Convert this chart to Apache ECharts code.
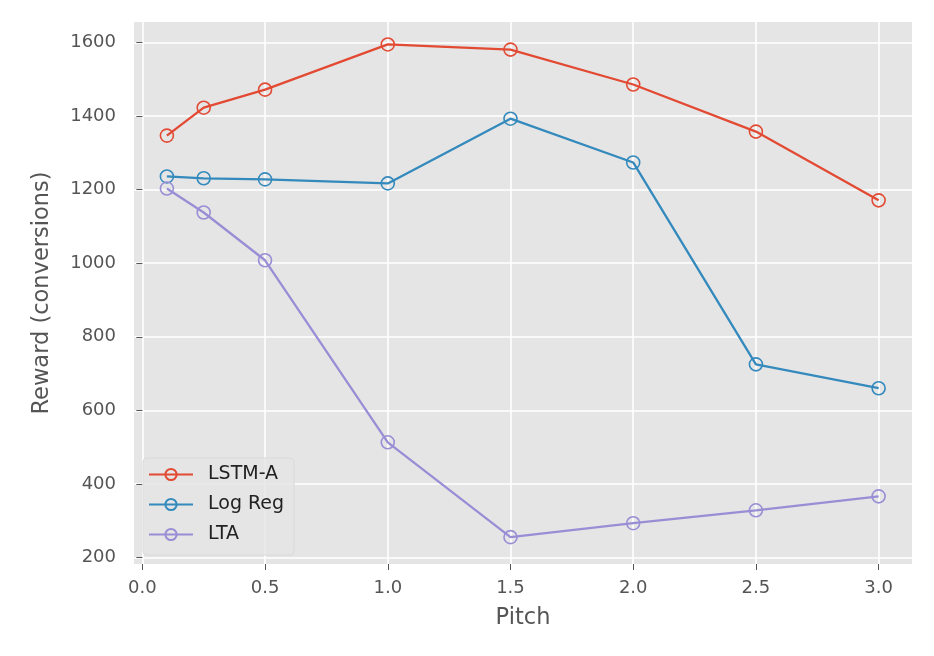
<!DOCTYPE html>
<html>
<head>
<meta charset="utf-8">
<script src="https://cdn.jsdelivr.net/npm/echarts@6/dist/echarts.min.js"></script>
<style>html,body{margin:0;padding:0;background:#fff}#c{width:934px;height:656px}</style>
</head>
<body>
<div id="c"></div>
<script>
const pitch = [0.1, 0.25, 0.5, 1.0, 1.5, 2.0, 2.5, 3.0];
const lstmA = [1347, 1423, 1472, 1595, 1581, 1486, 1358, 1171];
const logReg = [1236, 1231, 1228, 1217, 1393, 1274, 725, 660];
const lta = [1203, 1138, 1008, 513, 255, 293, 328, 366];
const xTicks = [0.0, 0.5, 1.0, 1.5, 2.0, 2.5, 3.0];
const yTicks = [200, 400, 600, 800, 1000, 1200, 1400, 1600];
const seriesNames = ['LSTM-A', 'Log Reg', 'LTA'];
const colors = ['#E24A33', '#348ABD', '#988ED5'];

const chart = echarts.init(document.getElementById('c'), null, {renderer: 'canvas'});
const font = 'DejaVu Sans';
function mkSeries(name, vals, color) {
  return {
    name: name,
    type: 'line',
    data: pitch.map((p, i) => [p, vals[i]]),
    symbol: 'circle',
    symbolSize: 13,
    showSymbol: true,
    lineStyle: {color: color, width: 2.3},
    itemStyle: {color: 'rgba(0,0,0,0)', borderColor: color, borderWidth: 1.6},
    emphasis: {disabled: true},
    animation: false,
    z: 3
  };
}
const option = {
  backgroundColor: '#fff',
  animation: false,
  grid: {left: 134, top: 22, right: 22, bottom: 92, show: true, backgroundColor: '#E5E5E5', borderWidth: 0},
  xAxis: {
    type: 'value',
    min: -0.034, max: 3.136,
    name: 'Pitch', nameLocation: 'middle', nameGap: 43,
    nameTextStyle: {fontFamily: font, fontSize: 22.5, color: '#555555'},
    axisLine: {show: false},
    axisTick: {show: true, length: 6, inside: false, lineStyle: {color: '#555555', width: 1}, customValues: xTicks},
    axisLabel: {fontFamily: font, fontSize: 18, color: '#555555', margin: 15, customValues: xTicks,
      formatter: v => Number(v).toFixed(1)},
    splitLine: {show: true, lineStyle: {color: '#ffffff', width: 1.6}}
  },
  yAxis: {
    type: 'value',
    min: 182, max: 1656,
    name: 'Reward (conversions)', nameLocation: 'middle', nameGap: 80,
    nameTextStyle: {fontFamily: font, fontSize: 22.5, color: '#555555'},
    axisLine: {show: false},
    axisTick: {show: true, length: 6, inside: false, lineStyle: {color: '#555555', width: 1}, customValues: yTicks},
    axisLabel: {fontFamily: font, fontSize: 18, color: '#555555', margin: 18, customValues: yTicks,
      formatter: v => String(v)},
    splitLine: {show: true, lineStyle: {color: '#ffffff', width: 1.6}}
  },
  legend: {
    show: true,
    orient: 'vertical',
    left: 143, top: 458,
    itemWidth: 44, itemHeight: 14, itemGap: 11,
    padding: [7, 10, 11, 5],
    backgroundColor: 'rgba(229,229,229,0.85)',
    borderColor: '#DADADA', borderWidth: 1, borderRadius: 4,
    textStyle: {fontFamily: font, fontSize: 19, color: '#222222', padding: [0, 0, 0, 10]},
    data: seriesNames
  },
  series: [
    mkSeries(seriesNames[0], lstmA, colors[0]),
    mkSeries(seriesNames[1], logReg, colors[1]),
    mkSeries(seriesNames[2], lta, colors[2])
  ]
};
chart.setOption(option);
</script>
</body>
</html>
